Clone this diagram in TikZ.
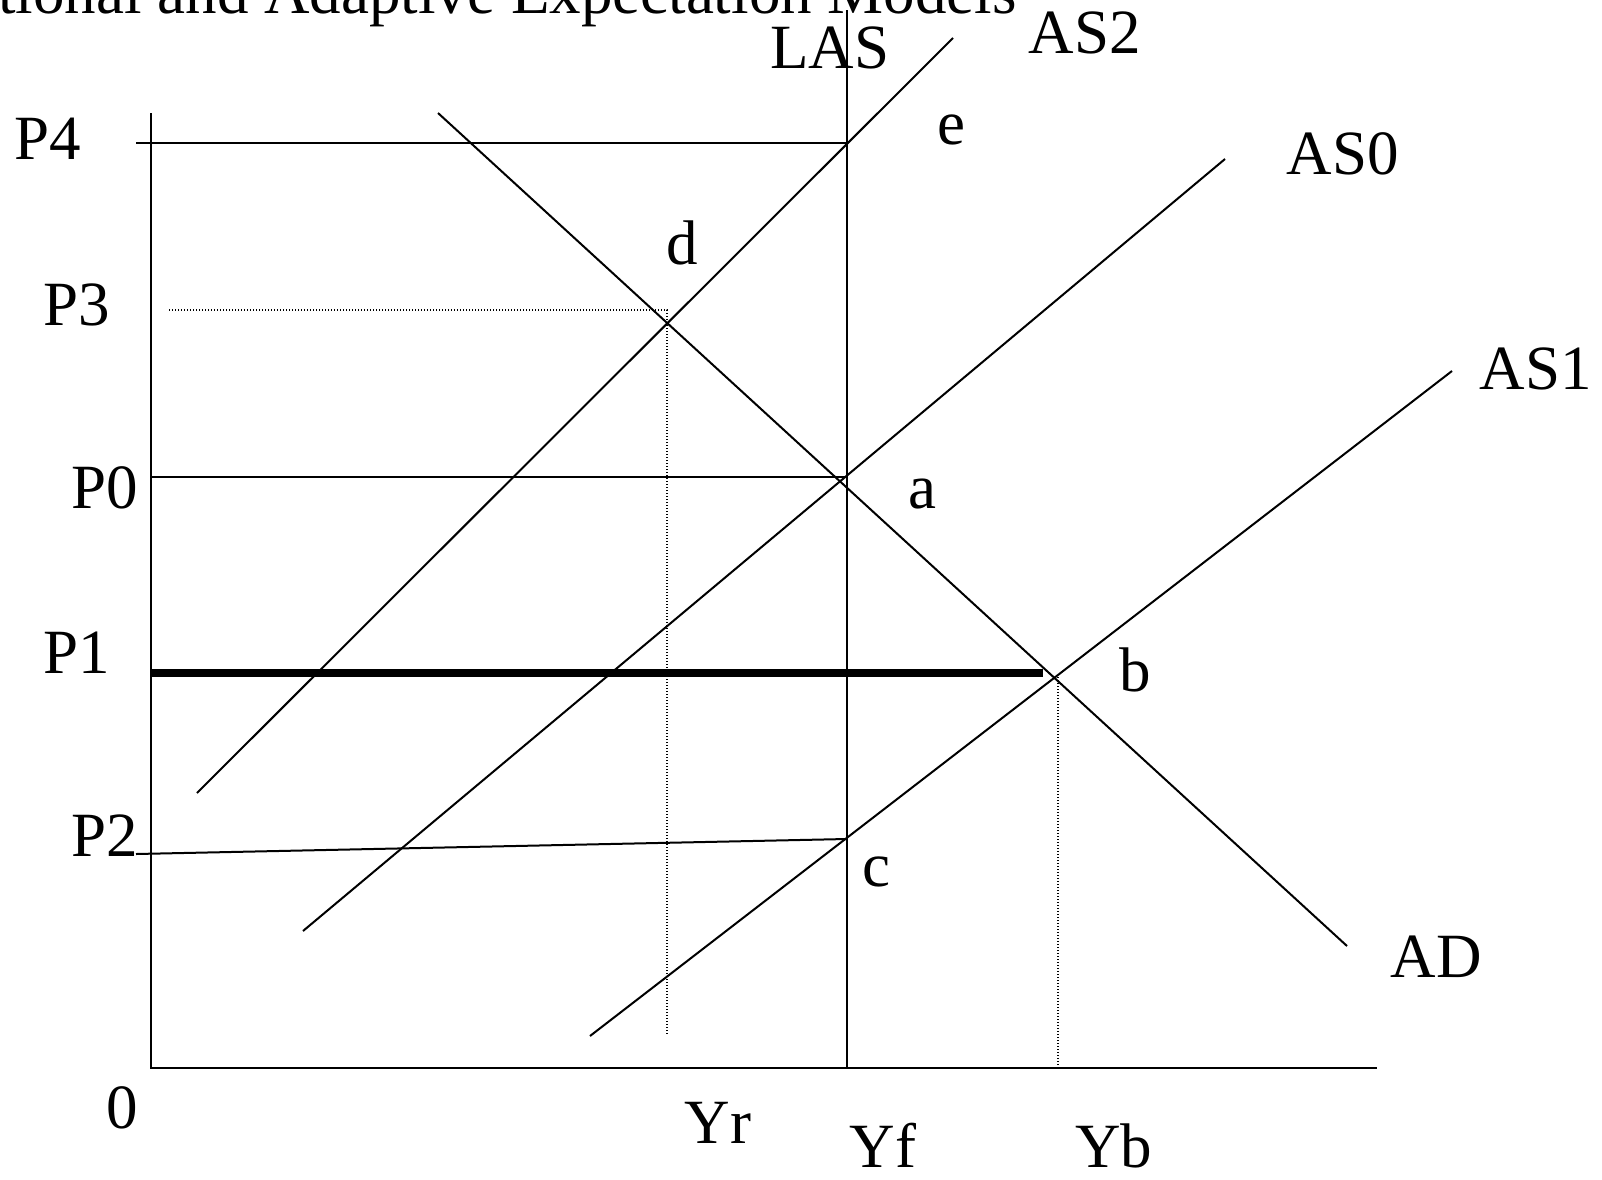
\documentclass[tikz,border=0pt]{standalone}
\usepackage{fontspec}
\setmainfont{Liberation Serif}
\begin{document}
\begin{tikzpicture}[x=0.5pt,y=-0.5pt,
  lbl/.style={inner sep=0pt,anchor=base,font=\fontsize{31.5}{38}\selectfont},
  thinline/.style={line width=1pt},
  thickline/.style={line width=3.6pt},
  dotline/.style={line width=0.6pt,dash pattern=on 0.6pt off 0.9pt}]
\useasboundingbox (0,0) rectangle (1602,1179);
\clip (0,0) rectangle (1602,1179);
% coordinates
\coordinate (O) at (151,1068);
\coordinate (Ytop) at (151,113);
\coordinate (Xend) at (1377,1068);
\coordinate (P4s) at (136,143);
\coordinate (E) at (847,143);
\coordinate (LAStop) at (847,10);
\coordinate (LASbot) at (847,1068);
\coordinate (AS2s) at (197,793);
\coordinate (AS2e) at (953,38);
\coordinate (ADs) at (438,113);
\coordinate (ADe) at (1347,946);
\coordinate (P3s) at (169,310);
\coordinate (P3e) at (667,310);
\coordinate (Yrb) at (667,1035);
\coordinate (P0s) at (151,477);
\coordinate (A) at (847,477);
\coordinate (AS0s) at (303,931);
\coordinate (AS0e) at (1225,159);
\coordinate (P1s) at (151,673);
\coordinate (P1e) at (1043,673);
\coordinate (AS1s) at (590,1036);
\coordinate (AS1e) at (1452,371);
\coordinate (B) at (1058,677);
\coordinate (Ybb) at (1058,1068);
\coordinate (P2s) at (136,854);
\coordinate (C) at (847,839);
% title (cut off at the top left, as in the reference)
\node[lbl,anchor=base east] (title) at (1017,13) {Rational and Adaptive Expectation Models};
% axes
\draw[thinline] (Ytop) -- (O) -- (Xend);
% lines
\draw[thinline] (P4s) -- (E);
\draw[thinline] (LAStop) -- (LASbot);
\draw[thinline] (AS2s) -- (AS2e);
\draw[thinline] (ADs) -- (ADe);
\draw[thinline] (AS0s) -- (AS0e);
\draw[thinline] (AS1s) -- (AS1e);
\draw[thinline] (P0s) -- (A);
\draw[thinline] (P2s) -- (C);
\draw[thickline] (P1s) -- (P1e);
\draw[dotline] (P3s) -- (P3e) -- (Yrb);
\draw[dotline] (B) -- (Ybb);
% labels
\node[lbl] (lP4) at (48,159) {P4};
\node[lbl] (lP3) at (77,325) {P3};
\node[lbl] (lP0) at (105,508) {P0};
\node[lbl] (lP1) at (77,673) {P1};
\node[lbl] (lP2) at (105,856) {P2};
\node[lbl] (l0) at (122,1128) {0};
\node[lbl] (lYr) at (718,1143) {Yr};
\node[lbl] (lYf) at (883,1167) {Yf};
\node[lbl] (lYb) at (1114,1167) {Yb};
\node[lbl] (lLAS) at (830,68) {LAS};
\node[lbl] (lAS2) at (1085,53) {AS2};
\node[lbl] (le) at (951,144) {e};
\node[lbl] (lAS0) at (1343,174) {AS0};
\node[lbl] (ld) at (682,264) {d};
\node[lbl] (lAS1) at (1536,389) {AS1};
\node[lbl] (la) at (922,508) {a};
\node[lbl] (lb) at (1135,691) {b};
\node[lbl] (lc) at (876,886) {c};
\node[lbl] (lAD) at (1436,977) {AD};
\end{tikzpicture}
\end{document}
